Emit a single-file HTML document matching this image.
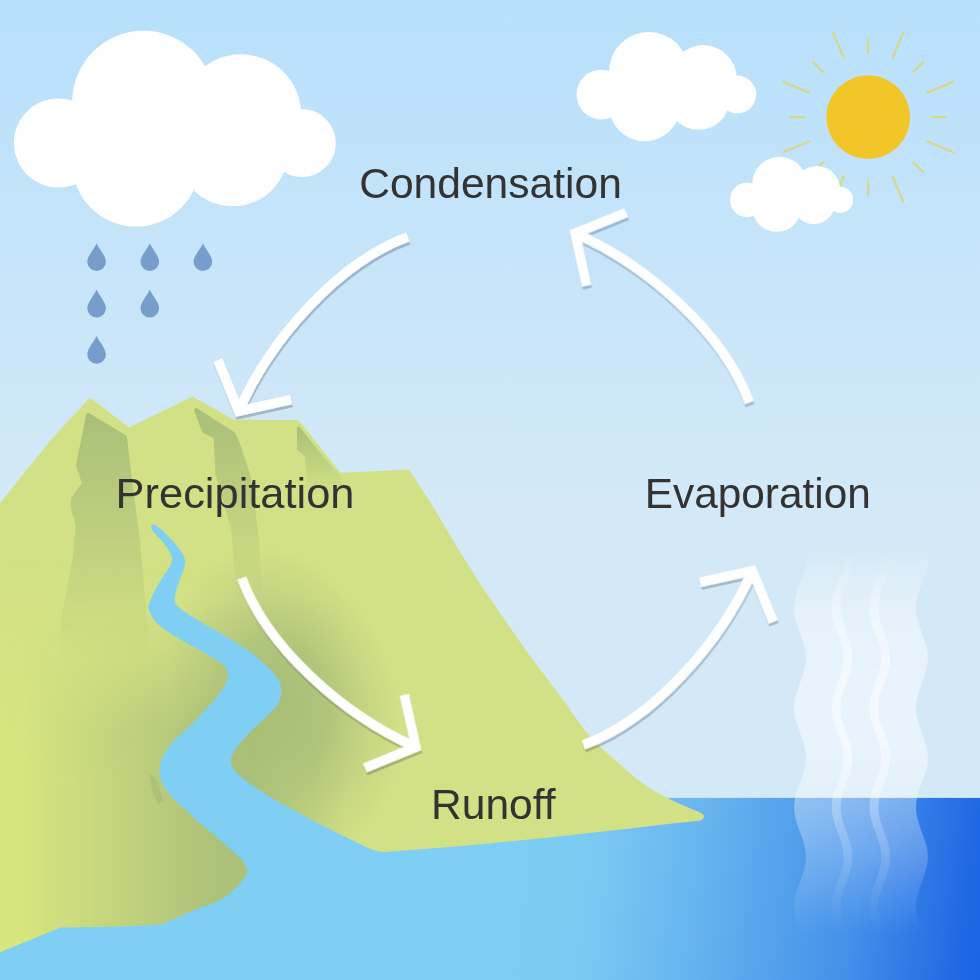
<!DOCTYPE html>
<html lang="en">
<head>
<meta charset="utf-8">
<title>Water Cycle</title>
<style>
  html, body { margin: 0; padding: 0; background: #d3e9f7; }
  body { width: 980px; height: 980px; overflow: hidden; font-family: "Liberation Sans", sans-serif; }
  svg { display: block; }
  text { font-family: "Liberation Sans", sans-serif; fill: #333333; }
</style>
</head>
<body>
<svg width="980" height="980" viewBox="0 0 980 980">
  <defs>
    <linearGradient id="sky" gradientUnits="userSpaceOnUse" x1="0" y1="0" x2="0" y2="500">
      <stop offset="0" stop-color="#b8e0fc"/>
      <stop offset="1" stop-color="#d3e9f7"/>
    </linearGradient>
    <linearGradient id="sea" gradientUnits="userSpaceOnUse" x1="500" y1="889.4" x2="990" y2="950.6">
      <stop offset="0" stop-color="#7fcef3"/>
      <stop offset="0.1735" stop-color="#7bcaf3"/>
      <stop offset="0.417" stop-color="#65b2ef"/>
      <stop offset="0.7185" stop-color="#438fea"/>
      <stop offset="0.9346" stop-color="#216ae4"/>
      <stop offset="1" stop-color="#1a63e3"/>
    </linearGradient>
    <linearGradient id="mtn" gradientUnits="userSpaceOnUse" x1="0" y1="560" x2="0" y2="800">
      <stop offset="0" stop-color="#d3e186"/>
      <stop offset="1" stop-color="#d3e186"/>
    </linearGradient>
    <linearGradient id="crev" gradientUnits="userSpaceOnUse" x1="0" y1="400" x2="0" y2="655">
      <stop offset="0" stop-color="#a4bb78" stop-opacity="0.95"/>
      <stop offset="0.35" stop-color="#a9bf78" stop-opacity="0.7"/>
      <stop offset="1" stop-color="#a9bf78" stop-opacity="0"/>
    </linearGradient>
    <linearGradient id="lite" gradientUnits="userSpaceOnUse" x1="0" y1="0" x2="260" y2="0">
      <stop offset="0" stop-color="#dbe87b" stop-opacity="0.7"/>
      <stop offset="1" stop-color="#dbe87b" stop-opacity="0"/>
    </linearGradient>
    <linearGradient id="liteV" gradientUnits="userSpaceOnUse" x1="0" y1="560" x2="0" y2="780">
      <stop offset="0" stop-color="#fff" stop-opacity="0"/>
      <stop offset="1" stop-color="#fff" stop-opacity="1"/>
    </linearGradient>
    <mask id="liteMask" maskUnits="userSpaceOnUse" x="0" y="550" width="270" height="430"><rect x="0" y="550" width="270" height="430" fill="url(#liteV)"/></mask>
    <linearGradient id="crevB" gradientUnits="userSpaceOnUse" x1="0" y1="400" x2="0" y2="600">
      <stop offset="0" stop-color="#a4bb78" stop-opacity="0.95"/>
      <stop offset="0.35" stop-color="#a9bf78" stop-opacity="0.7"/>
      <stop offset="1" stop-color="#a9bf78" stop-opacity="0"/>
    </linearGradient>
    <linearGradient id="crev3" gradientUnits="userSpaceOnUse" x1="0" y1="424" x2="0" y2="495">
      <stop offset="0" stop-color="#a4bb78" stop-opacity="0.95"/>
      <stop offset="1" stop-color="#a9bf78" stop-opacity="0"/>
    </linearGradient>
    <radialGradient id="shadeR" gradientUnits="userSpaceOnUse" cx="0" cy="0" r="1" gradientTransform="translate(286 700) rotate(-18) scale(112 160)">
      <stop offset="0" stop-color="#a7bd78" stop-opacity="0.92"/>
      <stop offset="0.35" stop-color="#a7bd78" stop-opacity="0.75"/>
      <stop offset="0.7" stop-color="#a7bd78" stop-opacity="0.3"/>
      <stop offset="1" stop-color="#a7bd78" stop-opacity="0"/>
    </radialGradient>
    <linearGradient id="shadeL" gradientUnits="userSpaceOnUse" x1="25" y1="0" x2="345" y2="0">
      <stop offset="0" stop-color="#a8be78" stop-opacity="0"/>
      <stop offset="0.6" stop-color="#a8be78" stop-opacity="0.9"/>
      <stop offset="0.72" stop-color="#a8be78" stop-opacity="0.9"/>
      <stop offset="1" stop-color="#a8be78" stop-opacity="0"/>
    </linearGradient>
    <linearGradient id="shadeLv" gradientUnits="userSpaceOnUse" x1="0" y1="605" x2="0" y2="730">
      <stop offset="0" stop-color="#fff" stop-opacity="0"/>
      <stop offset="0.35" stop-color="#fff" stop-opacity="0.3"/>
      <stop offset="1" stop-color="#fff" stop-opacity="1"/>
    </linearGradient>
    <mask id="shadeLmask" maskUnits="userSpaceOnUse" x="0" y="600" width="350" height="380"><rect x="0" y="600" width="350" height="380" fill="url(#shadeLv)"/></mask>
    <linearGradient id="steamFade" gradientUnits="userSpaceOnUse" x1="0" y1="545" x2="0" y2="935">
      <stop offset="0" stop-color="#fff" stop-opacity="0"/>
      <stop offset="0.09" stop-color="#fff" stop-opacity="0.5"/>
      <stop offset="0.192" stop-color="#fff" stop-opacity="0.9"/>
      <stop offset="0.346" stop-color="#fff" stop-opacity="1"/>
      <stop offset="0.513" stop-color="#fff" stop-opacity="1"/>
      <stop offset="0.654" stop-color="#fff" stop-opacity="0.75"/>
      <stop offset="0.782" stop-color="#fff" stop-opacity="0.5"/>
      <stop offset="0.91" stop-color="#fff" stop-opacity="0.2"/>
      <stop offset="1" stop-color="#fff" stop-opacity="0"/>
    </linearGradient>
    <mask id="steamMask" maskUnits="userSpaceOnUse" x="760" y="520" width="220" height="440"><rect x="760" y="520" width="220" height="440" fill="url(#steamFade)"/></mask>
    <filter id="ash" filterUnits="userSpaceOnUse" x="180" y="180" width="640" height="620">
      <feDropShadow dx="0.7" dy="3" stdDeviation="0.4" flood-color="#001020" flood-opacity="0.21"/>
    </filter>
    <mask id="crevMask" maskUnits="userSpaceOnUse" x="40" y="395" width="140" height="280">
      <g fill="#fff" stroke="#fff" stroke-width="4" stroke-linejoin="round">
        <path d="M88,415 L125,437 L128,464 L138,541 L150,680 L60,680 L64,615 L74.5,560 L77.7,526 L72.8,507 L73.2,498.5 L84.2,483.5 L78,465.7 Z"/>
      </g>
    </mask>
    <mask id="crevMaskB" maskUnits="userSpaceOnUse" x="180" y="395" width="120" height="250">
      <g fill="#fff" stroke="#fff" stroke-width="4" stroke-linejoin="round">
        <path d="M196,410 L234,434.5 L239,447 L249,477.6 L257,538 L263,650 L242,650 L233.5,531 L217.5,474 L215.5,437 L204,431 Z"/>
      </g>
    </mask>
    <mask id="crevMask3" maskUnits="userSpaceOnUse" x="280" y="415" width="90" height="110">
      <g fill="#fff" stroke="#fff" stroke-width="3" stroke-linejoin="round">
        <path d="M298.5,428 L323,459 L340,477 L352,530 L313,530 L306.5,456 L298.5,449 Z"/>
      </g>
    </mask>
    <path id="mtnShape" d="M-5,509.2 L0,503 L50.8,440 L90,397.5 L129,427.5 L192.5,396.5 L233.7,419.5 L298.7,420.2 L340.4,472.7 L409,469.4 L434.3,508.6 L455.5,544.5 L480,583.7 L501.4,615.1 L530,655.9 C535.55,663.25 555.85,689.93 563.3,700 C570.75,710.07 570.77,710.85 574.7,716.3 C578.63,721.75 582.55,727.52 586.9,732.7 C591.25,737.88 596.03,742.78 600.8,747.4 C605.57,752.02 610.6,756.05 615.5,760.4 C620.4,764.75 625.3,769.42 630.2,773.5 C635.1,777.58 640.27,781.63 644.9,784.9 C649.53,788.17 653.1,790.38 658,793.1 C662.9,795.82 668.87,798.62 674.3,801.2 C679.73,803.78 686.4,806.75 690.6,808.6 C694.8,810.45 698.02,811.68 699.5,812.3 Q705.5,815 703.5,818 Q702,820.6 697,821 L674.3,823.3 L625.3,829 L544,838 L462.4,846.1 L380.8,852.2 L364.5,849 L300,900 L-5,990 Z"/>
    <clipPath id="mtnClip"><use href="#mtnShape"/></clipPath>
    <g id="cloud">
      <circle cx="58.5" cy="143" r="44.6"/>
      <circle cx="143.5" cy="102" r="71.3"/>
      <circle cx="136" cy="162.5" r="64"/>
      <circle cx="241" cy="114.3" r="60"/>
      <circle cx="232.7" cy="150.5" r="55.7"/>
      <circle cx="301.8" cy="143" r="34"/>
      <rect x="59" y="120" width="242" height="50"/>
    </g>
    <g id="arrow">
      <path d="M407.8,237.1 C338.6,262.4 271,338.1 238.7,411.2"/>
      <path d="M217.9,360.1 L238.7,411.2 L291,399.6"/>
    </g>
    <path id="drop" d="M0,-13.7 C3,-7.5 9.3,-1 9.3,4.6 A9.3,9.3 0 0 1 -9.3,4.6 C-9.3,-1 -3,-7.5 0,-13.7 Z"/>
  </defs>

  <!-- sky -->
  <rect x="0" y="0" width="980" height="800" fill="url(#sky)"/>
  <!-- sea -->
  <rect x="0" y="797.9" width="980" height="183" fill="url(#sea)"/>

  <!-- sun -->
  <g stroke="#d6d78a" stroke-width="2.2" stroke-linecap="round" fill="none">
      <line x1="932.2" y1="117.1" x2="946.2" y2="117.1"/>
      <line x1="927.33" y1="141.59" x2="953.2" y2="152.31"/>
      <line x1="913.45" y1="162.35" x2="923.35" y2="172.25"/>
      <line x1="892.69" y1="176.23" x2="903.41" y2="202.1"/>
      <line x1="868.2" y1="181.1" x2="868.2" y2="195.1"/>
      <line x1="843.71" y1="176.23" x2="832.99" y2="202.1"/>
      <line x1="822.95" y1="162.35" x2="813.05" y2="172.25"/>
      <line x1="809.07" y1="141.59" x2="783.2" y2="152.31"/>
      <line x1="804.2" y1="117.1" x2="790.2" y2="117.1"/>
      <line x1="809.07" y1="92.61" x2="783.2" y2="81.89"/>
      <line x1="822.95" y1="71.85" x2="813.05" y2="61.95"/>
      <line x1="843.71" y1="57.97" x2="832.99" y2="32.1"/>
      <line x1="868.2" y1="53.1" x2="868.2" y2="39.1"/>
      <line x1="892.69" y1="57.97" x2="903.41" y2="32.1"/>
      <line x1="913.45" y1="71.85" x2="923.35" y2="61.95"/>
      <line x1="927.33" y1="92.61" x2="953.2" y2="81.89"/>
  </g>
  <circle cx="868.2" cy="117.1" r="41.9" fill="#f2c628"/>

  <!-- clouds -->
  <use href="#cloud" fill="#fff"/>
  <use href="#cloud" fill="#fff" transform="translate(568.8 14.8) scale(0.558)"/>
  <use href="#cloud" fill="#fff" transform="translate(724.6 145.1) scale(0.383)"/>

  <!-- rain drops -->
  <g fill="#769dcb">
    <use href="#drop" x="96.6" y="257.2"/>
    <use href="#drop" x="149.8" y="257.2"/>
    <use href="#drop" x="202.9" y="257.2"/>
    <use href="#drop" x="96.6" y="303.5"/>
    <use href="#drop" x="149.8" y="303.5"/>
    <use href="#drop" x="96.6" y="349.8"/>
  </g>

  <!-- mountain -->
  <use href="#mtnShape" fill="url(#mtn)"/>
  <g clip-path="url(#mtnClip)">
    <rect x="0" y="550" width="270" height="430" fill="url(#lite)" mask="url(#liteMask)"/>
    <rect x="120" y="520" width="340" height="360" fill="url(#shadeR)"/>
    <rect x="0" y="600" width="350" height="380" fill="url(#shadeL)" mask="url(#shadeLmask)"/>
    <path d="M149,772 L157,781 L163.5,801 L158,804 L152,790 Z" fill="#a2b876" fill-opacity="0.55"/>
    <rect x="40" y="395" width="140" height="280" fill="url(#crev)" mask="url(#crevMask)"/>
    <rect x="180" y="395" width="120" height="250" fill="url(#crevB)" mask="url(#crevMaskB)"/>
    <rect x="280" y="415" width="90" height="110" fill="url(#crev3)" mask="url(#crevMask3)"/>
  </g>

  <!-- river -->
  <path fill="url(#sea)" d="M151.2,524.6 C152.5,525.08 155.28,524.63 159,527.5 C162.72,530.37 169.45,537.17 173.5,541.8 C177.55,546.43 181.47,551.22 183.3,555.3 C185.13,559.38 185.32,561.6 184.5,566.3 C183.68,571 180.03,578.18 178.4,583.5 C176.77,588.82 174.7,594.33 174.7,598.2 C174.7,602.07 174.52,603.03 178.4,606.7 C182.28,610.37 189.85,615.1 198,620.2 C206.15,625.3 217.52,631.18 227.3,637.3 C237.08,643.42 248.53,650.37 256.7,656.9 C264.87,663.43 272.22,670.78 276.3,676.5 C280.38,682.22 281.2,686.3 281.2,691.2 C281.2,696.1 280.38,700.18 276.3,705.9 C272.22,711.62 262.35,719.75 256.7,725.5 C251.05,731.25 246.65,734.92 242.4,740.4 C238.15,745.88 231.93,752.78 231.2,758.4 C230.47,764.02 231.63,767.75 238,774.1 C244.37,780.45 256.68,788.65 269.4,796.5 C282.12,804.35 300.08,813.72 314.3,821.2 C328.52,828.68 345.08,836.68 354.7,841.4 C364.32,846.12 369.12,848.15 372,849.5 L385,853 L440,849.5 L460,900 L440,990 L-5,990 L-5,954.3 L60.6,927.6 L116.7,926.7 L161.6,924.5  C167.6,921.88 187.12,913.3 197.6,908.8 C208.08,904.3 216.65,902.75 224.5,897.5 C232.35,892.25 241.33,882.9 244.7,877.3 C248.07,871.7 248.07,869.5 244.7,863.9 C241.33,858.3 233.12,851.57 224.5,843.7 C215.88,835.83 202.73,825.68 193,816.7 C183.27,807.72 171.7,798.03 166.1,789.8 C160.5,781.57 158.65,774.78 159.4,767.3 C160.15,759.82 164.98,752.27 170.6,744.9 C176.22,737.53 185.27,731.23 193.1,723.1 C200.93,714.97 211.9,703.45 217.6,696.1 C223.3,688.75 226.08,683.9 227.3,679 C228.52,674.1 228.15,670.78 224.9,666.7 C221.65,662.62 215.15,658.98 207.8,654.5 C200.45,650.02 188.97,644.7 180.8,639.8 C172.63,634.9 164.1,630 158.8,625.1 C153.5,620.2 150.43,614.48 149,610.4 C147.57,606.32 148.57,605.08 150.2,600.6 C151.83,596.12 155.33,589.62 158.8,583.5 C162.27,577.38 168.97,568.6 171,563.9 C173.03,559.2 172.22,558.77 171,555.3 C169.78,551.83 166.78,547.23 163.7,543.1 C160.62,538.97 154.58,533.58 152.5,530.5 C150.42,527.42 151.42,525.58 151.2,524.6 Z"/>

  <!-- steam -->
  <g mask="url(#steamMask)" fill="#fff" fill-opacity="0.48">
    <polygon points="798.64,530 800.12,534 801.59,538 802.96,542 804.14,546 805.06,550 805.66,554 805.9,558 805.76,562 805.26,566 804.42,570 803.31,574 801.98,578 800.53,582 799.04,586 797.62,590 796.35,594 795.3,598 794.56,602 794.16,606 794.13,610 794.48,614 795.17,618 796.17,622 797.42,626 798.82,630 800.31,634 801.77,638 803.12,642 804.27,646 805.15,650 805.71,654 805.9,658 805.72,662 805.17,666 804.3,670 803.15,674 801.81,678 800.34,682 798.86,686 797.45,690 796.2,694 795.19,698 794.49,702 794.14,706 794.16,710 794.55,714 795.28,718 796.32,722 797.59,726 799.01,730 800.49,734 801.95,738 803.28,742 804.4,746 805.24,750 805.75,754 805.9,758 805.67,762 805.08,766 804.17,770 802.99,774 801.63,778 800.16,782 798.68,786 797.28,790 796.06,794 795.09,798 794.43,802 794.12,806 794.19,810 794.62,814 795.4,818 796.46,822 797.76,826 799.19,830 800.68,834 802.12,838 803.43,842 804.52,846 805.32,850 805.79,854 805.89,858 805.61,862 804.98,866 804.03,870 802.83,874 801.45,878 799.97,882 798.5,886 797.12,890 795.92,894 794.99,898 794.37,902 794.11,906 794.22,910 794.7,914 795.52,918 796.62,922 797.93,926 799.38,930 800.86,934 802.29,938 848.79,938 847.36,934 845.88,930 844.43,926 843.12,922 842.02,918 841.2,914 840.72,910 840.61,906 840.87,902 841.49,898 842.42,894 843.62,890 845,886 846.47,882 847.95,878 849.33,874 850.53,870 851.48,866 852.11,862 852.39,858 852.29,854 851.82,850 851.02,846 849.93,842 848.62,838 847.18,834 845.69,830 844.26,826 842.96,822 841.9,818 841.12,814 840.69,810 840.62,806 840.93,802 841.59,798 842.56,794 843.78,790 845.18,786 846.66,782 848.13,778 849.49,774 850.67,770 851.58,766 852.17,762 852.4,758 852.25,754 851.74,750 850.9,746 849.78,742 848.45,738 846.99,734 845.51,730 844.09,726 842.82,722 841.78,718 841.05,714 840.66,710 840.64,706 840.99,702 841.69,698 842.7,694 843.95,690 845.36,686 846.84,682 848.31,678 849.65,674 850.8,670 851.67,666 852.22,662 852.4,658 852.21,654 851.65,650 850.77,646 849.62,642 848.27,638 846.81,634 845.32,630 843.92,626 842.67,622 841.67,618 840.98,614 840.63,610 840.66,606 841.06,602 841.8,598 842.85,594 844.12,590 845.54,586 847.03,582 848.48,578 849.81,574 850.92,570 851.76,566 852.26,562 852.4,558 852.16,554 851.56,550 850.64,546 849.46,542 848.09,538 846.62,534 845.14,530"/>
    <polygon points="836.34,530 837.82,534 839.29,538 840.66,542 841.84,546 842.76,550 843.36,554 843.6,558 843.46,562 842.96,566 842.12,570 841.01,574 839.68,578 838.23,582 836.74,586 835.32,590 834.05,594 833,598 832.26,602 831.86,606 831.83,610 832.18,614 832.87,618 833.87,622 835.12,626 836.52,630 838.01,634 839.47,638 840.82,642 841.97,646 842.85,650 843.41,654 843.6,658 843.42,662 842.87,666 842,670 840.85,674 839.51,678 838.04,682 836.56,686 835.15,690 833.9,694 832.89,698 832.19,702 831.84,706 831.86,710 832.25,714 832.98,718 834.02,722 835.29,726 836.71,730 838.19,734 839.65,738 840.98,742 842.1,746 842.94,750 843.45,754 843.6,758 843.37,762 842.78,766 841.87,770 840.69,774 839.33,778 837.86,782 836.38,786 834.98,790 833.76,794 832.79,798 832.13,802 831.82,806 831.89,810 832.32,814 833.1,818 834.16,822 835.46,826 836.89,830 838.38,834 839.82,838 841.13,842 842.22,846 843.02,850 843.49,854 843.59,858 843.31,862 842.68,866 841.73,870 840.53,874 839.15,878 837.67,882 836.2,886 834.82,890 833.62,894 832.69,898 832.07,902 831.81,906 831.92,910 832.4,914 833.22,918 834.32,922 835.63,926 837.08,930 838.56,934 839.99,938 886.49,938 885.06,934 883.58,930 882.13,926 880.82,922 879.72,918 878.9,914 878.42,910 878.31,906 878.57,902 879.19,898 880.12,894 881.32,890 882.7,886 884.17,882 885.65,878 887.03,874 888.23,870 889.18,866 889.81,862 890.09,858 889.99,854 889.52,850 888.72,846 887.63,842 886.32,838 884.88,834 883.39,830 881.96,826 880.66,822 879.6,818 878.82,814 878.39,810 878.32,806 878.63,802 879.29,798 880.26,794 881.48,790 882.88,786 884.36,782 885.83,778 887.19,774 888.37,770 889.28,766 889.87,762 890.1,758 889.95,754 889.44,750 888.6,746 887.48,742 886.15,738 884.69,734 883.21,730 881.79,726 880.52,722 879.48,718 878.75,714 878.36,710 878.34,706 878.69,702 879.39,698 880.4,694 881.65,690 883.06,686 884.54,682 886.01,678 887.35,674 888.5,670 889.37,666 889.92,662 890.1,658 889.91,654 889.35,650 888.47,646 887.32,642 885.97,638 884.51,634 883.02,630 881.62,626 880.37,622 879.37,618 878.68,614 878.33,610 878.36,606 878.76,602 879.5,598 880.55,594 881.82,590 883.24,586 884.73,582 886.18,578 887.51,574 888.62,570 889.46,566 889.96,562 890.1,558 889.86,554 889.26,550 888.34,546 887.16,542 885.79,538 884.32,534 882.84,530"/>
    <polygon points="874.04,530 875.52,534 876.99,538 878.36,542 879.54,546 880.46,550 881.06,554 881.3,558 881.16,562 880.66,566 879.82,570 878.71,574 877.38,578 875.93,582 874.44,586 873.02,590 871.75,594 870.7,598 869.96,602 869.56,606 869.53,610 869.88,614 870.57,618 871.57,622 872.82,626 874.22,630 875.71,634 877.17,638 878.52,642 879.67,646 880.55,650 881.11,654 881.3,658 881.12,662 880.57,666 879.7,670 878.55,674 877.21,678 875.74,682 874.26,686 872.85,690 871.6,694 870.59,698 869.89,702 869.54,706 869.56,710 869.95,714 870.68,718 871.72,722 872.99,726 874.41,730 875.89,734 877.35,738 878.68,742 879.8,746 880.64,750 881.15,754 881.3,758 881.07,762 880.48,766 879.57,770 878.39,774 877.03,778 875.56,782 874.08,786 872.68,790 871.46,794 870.49,798 869.83,802 869.52,806 869.59,810 870.02,814 870.8,818 871.86,822 873.16,826 874.59,830 876.08,834 877.52,838 878.83,842 879.92,846 880.72,850 881.19,854 881.29,858 881.01,862 880.38,866 879.43,870 878.23,874 876.85,878 875.37,882 873.9,886 872.52,890 871.32,894 870.39,898 869.77,902 869.51,906 869.62,910 870.1,914 870.92,918 872.02,922 873.33,926 874.78,930 876.26,934 877.69,938 924.19,938 922.76,934 921.28,930 919.83,926 918.52,922 917.42,918 916.6,914 916.12,910 916.01,906 916.27,902 916.89,898 917.82,894 919.02,890 920.4,886 921.87,882 923.35,878 924.73,874 925.93,870 926.88,866 927.51,862 927.79,858 927.69,854 927.22,850 926.42,846 925.33,842 924.02,838 922.58,834 921.09,830 919.66,826 918.36,822 917.3,818 916.52,814 916.09,810 916.02,806 916.33,802 916.99,798 917.96,794 919.18,790 920.58,786 922.06,782 923.53,778 924.89,774 926.07,770 926.98,766 927.57,762 927.8,758 927.65,754 927.14,750 926.3,746 925.18,742 923.85,738 922.39,734 920.91,730 919.49,726 918.22,722 917.18,718 916.45,714 916.06,710 916.04,706 916.39,702 917.09,698 918.1,694 919.35,690 920.76,686 922.24,682 923.71,678 925.05,674 926.2,670 927.07,666 927.62,662 927.8,658 927.61,654 927.05,650 926.17,646 925.02,642 923.67,638 922.21,634 920.72,630 919.32,626 918.07,622 917.07,618 916.38,614 916.03,610 916.06,606 916.46,602 917.2,598 918.25,594 919.52,590 920.94,586 922.43,582 923.88,578 925.21,574 926.32,570 927.16,566 927.66,562 927.8,558 927.56,554 926.96,550 926.04,546 924.86,542 923.49,538 922.02,534 920.54,530"/>
  </g>

  <!-- arrows -->
  <g fill="none" stroke="#fff" stroke-width="9.6" stroke-miterlimit="10" filter="url(#ash)">
    <use href="#arrow"/>
    <use href="#arrow" transform="translate(-0.7 0) rotate(-90 495.6 490.2)"/>
    <use href="#arrow" transform="translate(0 1.5) rotate(180 495.6 490.2)"/>
    <use href="#arrow" transform="translate(0.5 0) rotate(90 495.6 490.2)"/>
  </g>

  <!-- labels -->
  <text x="359.2" y="197.9" font-size="42" textLength="262.7" lengthAdjust="spacingAndGlyphs">Condensation</text>
  <text x="115.6" y="508.2" font-size="42" textLength="238.9" lengthAdjust="spacingAndGlyphs">Precipitation</text>
  <text x="644.7" y="508.2" font-size="42" textLength="226.2" lengthAdjust="spacingAndGlyphs">Evaporation</text>
  <text x="431" y="819.4" font-size="42" textLength="124.6" lengthAdjust="spacingAndGlyphs">Runoff</text>
</svg>
</body>
</html>
